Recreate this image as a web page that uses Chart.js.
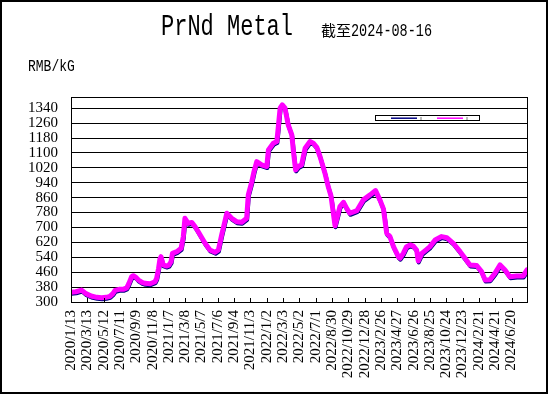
<!DOCTYPE html>
<html>
<head>
<meta charset="utf-8">
<script src="https://cdn.jsdelivr.net/npm/chart.js@4.4.1/dist/chart.umd.min.js"></script>
<style>
    html, body { margin: 0; padding: 0; background: #fff; }
    #wrap { width: 548px; height: 394px; }
</style>
</head>
<body>
<div id="wrap"><canvas id="priceChart" width="548" height="394"></canvas></div>
<script>
// PrNd metal price, RMB/kG
const startDate = '2020/1/13';
const endDate = '2024/8/16';

// days since 2020/1/13
const dayOffsets = [
    0, 18, 39, 55, 74, 95, 113, 129, 143, 154, 162, 177, 192, 205, 213, 223, 229, 239, 248, 261,
    272, 291, 309, 315, 322, 327, 331, 339, 352, 360, 368, 373, 389, 405, 413, 419, 431, 444, 456, 468,
    481, 493, 511, 530, 542, 554, 573, 591, 609, 628, 646, 652, 665, 673, 683, 701, 720, 726, 744, 757,
    762, 769, 777, 787, 799, 812, 818, 826, 836, 848, 861, 879, 891, 904, 916, 934, 946, 956, 971, 989,
    1002, 1015, 1026, 1051, 1075, 1100, 1120, 1136, 1149, 1161, 1173, 1186, 1204, 1210, 1222, 1234, 1247, 1259, 1271, 1277,
    1290, 1306, 1320, 1339, 1363, 1382, 1406, 1431, 1449, 1467, 1492, 1510, 1523, 1541, 1559, 1578, 1596, 1614, 1639, 1663,
    1677
];
const prices = [
    352, 355, 364, 345, 332, 325, 323, 325, 330, 345, 362, 368, 368, 376, 400, 436, 441, 432, 418, 405,
    400, 398, 409, 427, 480, 530, 543, 499, 493, 498, 516, 561, 570, 588, 651, 749, 722, 727, 705, 677,
    645, 615, 579, 567, 579, 660, 776, 749, 731, 728, 749, 875, 946, 1000, 1053, 1036, 1027, 1116, 1152, 1161,
    1233, 1340, 1358, 1340, 1250, 1197, 1107, 1009, 1027, 1036, 1125, 1161, 1152, 1130, 1080, 991, 919, 870, 709, 812,
    835, 800, 776, 790, 848, 875, 898, 848, 800, 669, 651, 597, 543, 535, 561, 597, 606, 600, 579, 520,
    561, 580, 597, 633, 651, 645, 615, 570, 535, 499, 496, 463, 418, 420, 454, 499, 472, 436, 440, 440,
    472
];

const tickLabels = [
    '2020/1/13', '2020/3/13', '2020/5/12', '2020/7/11', '2020/9/9', '2020/11/8',
    '2021/1/7', '2021/3/8', '2021/5/7', '2021/7/6', '2021/9/4', '2021/11/3',
    '2022/1/2', '2022/3/3', '2022/5/2', '2022/7/1', '2022/8/30', '2022/10/29', '2022/12/28',
    '2023/2/26', '2023/4/27', '2023/6/26', '2023/8/25', '2023/10/24', '2023/12/23',
    '2024/2/21', '2024/4/21', '2024/6/20'
];
const yTicks = [300, 380, 460, 540, 620, 700, 780, 860, 940, 1020, 1100, 1180, 1260, 1340];

const magenta = '#ff00ff';
const navy = '#000080';

function daysFromStart(dateStr) {
    const p = dateStr.split('/').map(Number);
    const s = startDate.split('/').map(Number);
    return Math.round((Date.UTC(p[0], p[1] - 1, p[2]) - Date.UTC(s[0], s[1] - 1, s[2])) / 86400000);
}

const points = dayOffsets.map((d, i) => ({ x: d, y: prices[i] }));

// draw text with a little vertical stretch, closer to the SimSun look
function stretchText(ctx, text, x, y, font, sy) {
    ctx.save();
    ctx.translate(x, y);
    ctx.scale(1, sy);
    ctx.font = font;
    ctx.fillText(text, 0, 0);
    ctx.restore();
}

const decorations = {
    id: 'decorations',
    beforeDraw(chart) {
        const ctx = chart.ctx;
        ctx.save();
        ctx.fillStyle = '#fff';
        ctx.fillRect(0, 0, chart.width, chart.height);
        ctx.restore();
    },
    beforeDatasetDraw(chart, args) {
        // navy series sits just under the magenta one
        if (args.index === 1) {
            chart.ctx.save();
            chart.ctx.translate(0.5, 1.5);
        }
    },
    afterDatasetDraw(chart, args) {
        if (args.index === 1) chart.ctx.restore();
    },
    afterDraw(chart) {
        const ctx = chart.ctx;
        const area = chart.chartArea;
        const xScale = chart.scales.x;
        ctx.save();

        // plot frame
        ctx.strokeStyle = '#000';
        ctx.lineWidth = 1;
        ctx.strokeRect(Math.round(area.left) + 0.5, Math.round(area.top) + 0.5,
            Math.round(area.right - area.left), Math.round(area.bottom - area.top));

        // inner tick marks on the date axis
        ctx.beginPath();
        xScale.ticks.forEach(t => {
            const px = Math.round(xScale.getPixelForValue(t.value)) + 0.5;
            ctx.moveTo(px, area.bottom - 4);
            ctx.lineTo(px, area.bottom);
        });
        ctx.stroke();

        // outer border of the picture
        ctx.lineWidth = 2;
        ctx.strokeRect(1, 1, chart.width - 2, chart.height - 2);

        // legend box with line samples, no text
        ctx.lineWidth = 1;
        ctx.fillStyle = '#fff';
        ctx.fillRect(375.5, 115.5, 104, 5);
        ctx.strokeRect(375.5, 115.5, 104, 5);
        const samples = [[391, chart.data.datasets[1].borderColor], [437, chart.data.datasets[0].borderColor]];
        samples.forEach(([x0, col]) => {
            ctx.strokeStyle = col;
            ctx.lineWidth = 1.5;
            ctx.beginPath();
            ctx.moveTo(x0, 118.2);
            ctx.lineTo(x0 + 26, 118.2);
            ctx.stroke();
            ctx.fillStyle = '#bbb';
            ctx.fillRect(x0 + 29, 117, 2, 3);
        });

        // titles
        ctx.fillStyle = '#000';
        ctx.textBaseline = 'alphabetic';
        ctx.textAlign = 'left';
        stretchText(ctx, 'PrNd Metal', 161, 35, '22px "Liberation Mono"', 1.35);
        ctx.font = '15px "Noto Sans CJK SC"';
        ctx.fillText('截至', 321, 36);
        stretchText(ctx, endDate.replace(/\//g, '-').replace(/-(\d)(?=-|$)/g, '-0$1'), 351, 36, '13.5px "Liberation Mono"', 1.3);
        stretchText(ctx, 'RMB/kG', 28, 71, '13px "Liberation Mono"', 1.3);
        ctx.restore();
    }
};

new Chart(document.getElementById('priceChart'), {
    type: 'line',
    data: {
        datasets: [{
            label: 'PrNd',
            data: points,
            borderColor: magenta,
            borderWidth: 5,
            borderJoinStyle: 'round',
            borderCapStyle: 'round',
            pointRadius: 0,
            tension: 0
        }, {
            label: 'PrNd ref',
            data: points,
            borderColor: navy,
            borderWidth: 4,
            borderJoinStyle: 'round',
            borderCapStyle: 'round',
            pointRadius: 0,
            tension: 0
        }]
    },
    options: {
        responsive: false,
        animation: false,
        devicePixelRatio: 1,
        layout: {
            padding: { top: 97, right: 21, left: 0, bottom: 0 }
        },
        plugins: {
            legend: { display: false },
            tooltip: { enabled: false }
        },
        scales: {
            x: {
                type: 'linear',
                min: 0,
                max: daysFromStart(endDate),
                afterBuildTicks: scale => {
                    scale.ticks = tickLabels.map(l => ({ value: daysFromStart(l) }));
                },
                afterFit: scale => { scale.height = 92; },
                grid: { display: false, drawTicks: false },
                border: { display: false },
                ticks: {
                    autoSkip: false,
                    minRotation: 90,
                    maxRotation: 90,
                    padding: 8,
                    color: '#000',
                    font: { family: '"Liberation Serif"', size: 15 },
                    callback: (value, index) => tickLabels[index]
                }
            },
            y: {
                min: 300,
                max: 1400,
                afterBuildTicks: scale => {
                    scale.ticks = yTicks.map(v => ({ value: v }));
                },
                afterFit: scale => { scale.width = 71; },
                grid: { color: '#000', lineWidth: 1, drawTicks: false },
                border: { display: false },
                ticks: {
                    autoSkip: false,
                    padding: 13,
                    color: '#000',
                    font: { family: '"Liberation Serif"', size: 15 },
                    callback: value => String(value)
                }
            }
        }
    },
    plugins: [decorations]
});
</script>
</body>
</html>
